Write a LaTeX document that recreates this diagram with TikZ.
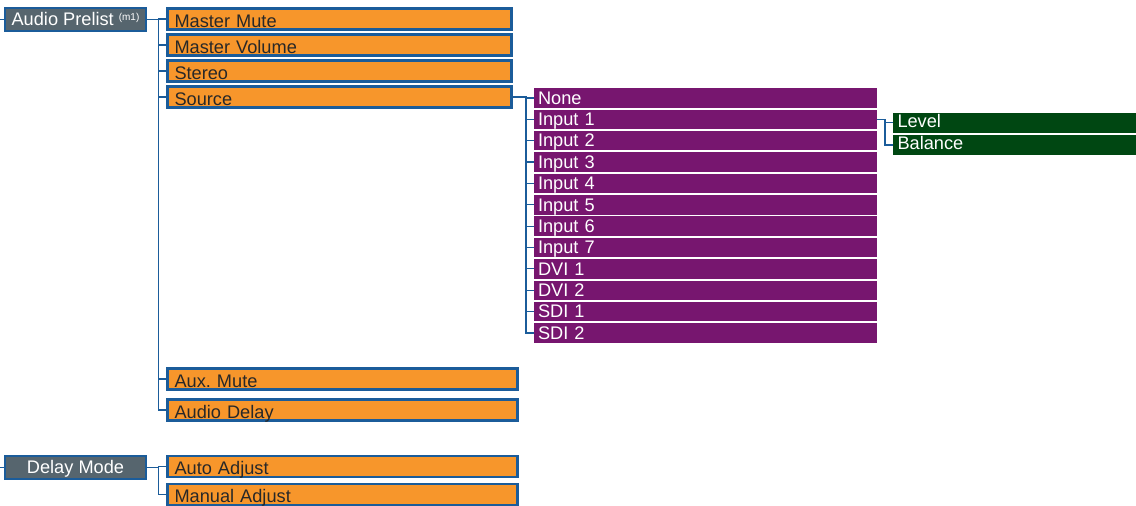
\documentclass[tikz,border=0pt]{standalone}
\usepackage{fontspec}
\setmainfont{Liberation Sans}
\usepackage{tikz}
\usetikzlibrary{positioning}
\definecolor{cEdge}{RGB}{27,92,154}
\definecolor{cSlate}{RGB}{86,101,110}
\definecolor{cOrange}{RGB}{247,150,43}
\definecolor{cPurple}{RGB}{119,22,111}
\definecolor{cGreen}{RGB}{0,71,18}
\definecolor{cInk}{RGB}{40,40,40}
\begin{document}
\begin{tikzpicture}[x=1pt, y=-1pt,
          font=\fontsize{18.2}{20}\selectfont,
          hd/.style={draw=cEdge, line width=2.2pt, fill=cSlate, text=white, inner sep=0pt,
                    outer sep=0pt, minimum width=141pt, minimum height=23pt,
                    text height=11pt, text depth=0pt},
          ob/.style={draw=cEdge, line width=2.4pt, fill=cOrange, text=cInk, align=left,
                    text width=330pt, inner xsep=7pt, inner ysep=0pt, outer sep=0pt,
                    minimum height=21pt, text height=16.5pt, text depth=0pt},
          obw/.style={ob, text width=336pt},
          pb/.style={fill=cPurple, text=white, align=left, text width=335pt, inner xsep=4pt,
                    inner ysep=0pt, outer sep=0pt, minimum height=19.4pt,
                    text height=12.5pt, text depth=0pt},
          gb/.style={fill=cGreen, text=white, align=left, text width=234pt, inner xsep=4.5pt,
                    inner ysep=0pt, outer sep=0pt, minimum height=20pt,
                    text height=9.5pt, text depth=0pt},
          cn/.style={draw=cEdge, line width=1.2pt}]
        \useasboundingbox (0,0) rectangle (1136,506);
        \node[hd, anchor=west] (ap) at (5,19.5) {Audio Prelist \raisebox{5pt}{\fontsize{10}{10}\selectfont(m1)}};
        \node[ob, anchor=west] (mm) at (167.5,19) {Master Mute};
        \node[ob, below=5pt of mm] (mv) {Master Volume};
        \node[ob, below=5pt of mv] (st) {Stereo};
        \node[ob, below=5pt of st] (src) {Source};
        \node[obw, anchor=west] (am) at (167.5,379) {Aux.\ Mute};
        \node[obw, below=10pt of am] (ad) {Audio Delay};
        \node[pb, anchor=north west] (none) at (534,88.3) {None};
        \node[pb, below=1.96pt of none] (in1) {Input 1};
        \node[pb, below=1.96pt of in1] (in2) {Input 2};
        \node[pb, below=1.96pt of in2] (in3) {Input 3};
        \node[pb, below=1.96pt of in3] (in4) {Input 4};
        \node[pb, below=1.96pt of in4] (in5) {Input 5};
        \node[pb, below=1.96pt of in5] (in6) {Input 6};
        \node[pb, below=1.96pt of in6] (in7) {Input 7};
        \node[pb, below=1.96pt of in7] (dvi1) {DVI 1};
        \node[pb, below=1.96pt of dvi1] (dvi2) {DVI 2};
        \node[pb, below=1.96pt of dvi2] (sdi1) {SDI 1};
        \node[pb, below=1.96pt of sdi1] (sdi2) {SDI 2};
        \node[gb, anchor=north west] (lv) at (893,112.5) {Level};
        \node[gb, below=2.5pt of lv] (bal) {Balance};
        \node[hd, anchor=west] (dm) at (5,467.5) {Delay Mode};
        \node[obw, anchor=west] (aa) at (167.5,466.5) {Auto Adjust};
        \node[obw, below=7pt of aa] (ma) {Manual Adjust};
        \coordinate[left=5pt of ap.west] (apIn);
        \coordinate[left=5pt of dm.west] (dmIn);
        \coordinate[right=12.5pt of ap.east] (apBus);
        \coordinate[right=12.5pt of dm.east] (dmBus);
        \coordinate[right=14.5pt of src.east] (srcBus);
        \coordinate[right=8pt of in1.east] (lvBus);
        \draw[cn] (apIn) -- (ap.west); \draw[cn] (dmIn) -- (dm.west);
        \draw[cn] (ap.east) -- (apBus) |- (ad.west);
        \draw[cn] (apBus) |- (mm.west); \draw[cn] (apBus) |- (mv.west);
        \draw[cn] (apBus) |- (st.west); \draw[cn] (apBus) |- (src.west);
        \draw[cn] (apBus) |- (am.west);
        \draw[cn] (src.east) -- (srcBus) |- (sdi2.west);
        \draw[cn] (srcBus) |- (none.west); \draw[cn] (srcBus) |- (in1.west);
        \draw[cn] (srcBus) |- (in2.west); \draw[cn] (srcBus) |- (in3.west);
        \draw[cn] (srcBus) |- (in4.west); \draw[cn] (srcBus) |- (in5.west);
        \draw[cn] (srcBus) |- (in6.west); \draw[cn] (srcBus) |- (in7.west);
        \draw[cn] (srcBus) |- (dvi1.west); \draw[cn] (srcBus) |- (dvi2.west);
        \draw[cn] (srcBus) |- (sdi1.west);
        \draw[cn] (in1.east) -- (lvBus) |- (bal.west); \draw[cn] (lvBus) |- (lv.west);
        \draw[cn] (dm.east) -- (dmBus) |- (ma.west); \draw[cn] (dmBus) |- (aa.west);
      \end{tikzpicture}
\end{document}
